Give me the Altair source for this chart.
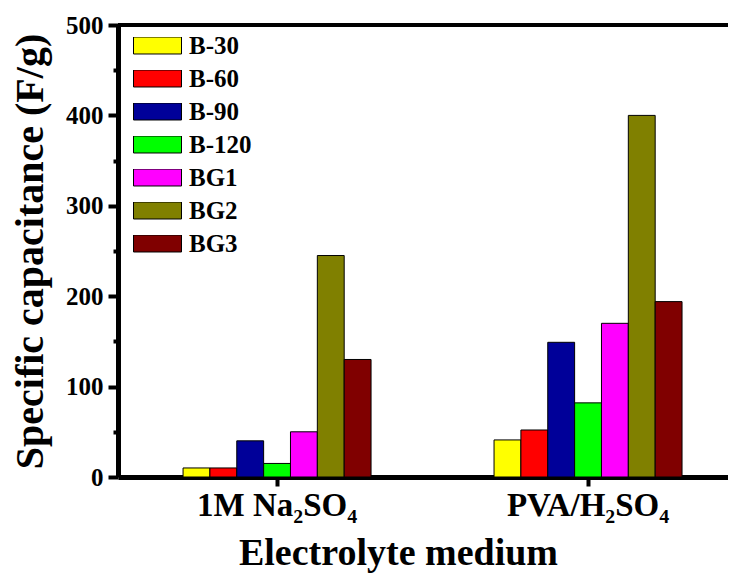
import altair as alt
import pandas as pd

categories = ["1M Na₂SO₄", "PVA/H₂SO₄"]
samples = ["B-30", "B-60", "B-90", "B-120", "BG1", "BG2", "BG3"]
na2so4_values = [10, 10, 40, 15, 50, 245, 130]
pva_values = [41, 52, 149, 82, 170, 400, 194]
colors = ["#FFFF00", "#FF0000", "#000099", "#00FF00", "#FF00FF", "#808000", "#800000"]
y_ticks = [0, 50, 100, 150, 200, 250, 300, 350, 400, 450, 500]

rows = []
for cat, vals in zip(categories, [na2so4_values, pva_values]):
    for s, v in zip(samples, vals):
        rows.append({"medium": cat, "sample": s, "capacitance": v})
df = pd.DataFrame(rows)

FONT = "Times New Roman, Liberation Serif, serif"

bars = alt.Chart(df).mark_bar(stroke="black", strokeWidth=1).encode(
    x=alt.X(
        "medium:N",
        sort=categories,
        scale=alt.Scale(paddingInner=0.3955, paddingOuter=0.1785, align=0.586),
        axis=alt.Axis(
            title="Electrolyte medium",
            labelAngle=0,
            labelFont=FONT, labelFontSize=33, labelFontWeight="bold", labelColor="black",
            labelPadding=3,
            titleFont=FONT, titleFontSize=38, titleFontWeight="bold", titleColor="black",
            titlePadding=12, titleX=280,
            domainColor="black", domainWidth=5,
            tickColor="black", tickWidth=4, tickSize=9,
        ),
    ),
    xOffset=alt.XOffset("sample:N", sort=samples, scale=alt.Scale(paddingInner=0, paddingOuter=0)),
    y=alt.Y(
        "capacitance:Q",
        scale=alt.Scale(domain=[0, 500], nice=False),
        axis=alt.Axis(
            title="Specific capacitance (F/g)",
            values=y_ticks,
            labelExpr="datum.value % 100 === 0 ? datum.label : ''",
            labelFont=FONT, labelFontSize=25, labelFontWeight="bold", labelColor="black",
            labelPadding=5,
            titleFont=FONT, titleFontSize=40, titleFontWeight="bold", titleColor="black",
            titlePadding=15,
            domainColor="black", domainWidth=5,
            tickColor="black", tickWidth=4,
            tickSize={"condition": {"test": "datum.value % 100 === 0", "value": 10}, "value": 5},
            grid=False,
        ),
    ),
    color=alt.Color(
        "sample:N",
        sort=samples,
        scale=alt.Scale(domain=samples, range=colors),
        legend=alt.Legend(
            title=None,
            orient="none", legendX=15, legendY=12,
            symbolType="M-1,-0.354L1,-0.354L1,0.354L-1,0.354Z",
            symbolSize=2304,
            symbolStrokeColor="black", symbolStrokeWidth=1, symbolOpacity=1,
            labelFont=FONT, labelFontSize=25, labelFontWeight="bold", labelColor="black",
            labelOffset=7, clipHeight=17, rowPadding=7, padding=0,
        ),
    ),
)

top_line = alt.Chart(pd.DataFrame({"v": [500]})).mark_rule(color="black", strokeWidth=4).encode(
    y=alt.datum(500)
)

chart = alt.layer(bars, top_line).properties(
    width=610, height=452,
    autosize=alt.AutoSizeParams(type="none"),
    padding={"left": 110, "top": 17, "right": 0, "bottom": 96},
).configure_view(strokeWidth=0)

chart.save("out.html", embed_options={"renderer": "svg", "actions": False})
